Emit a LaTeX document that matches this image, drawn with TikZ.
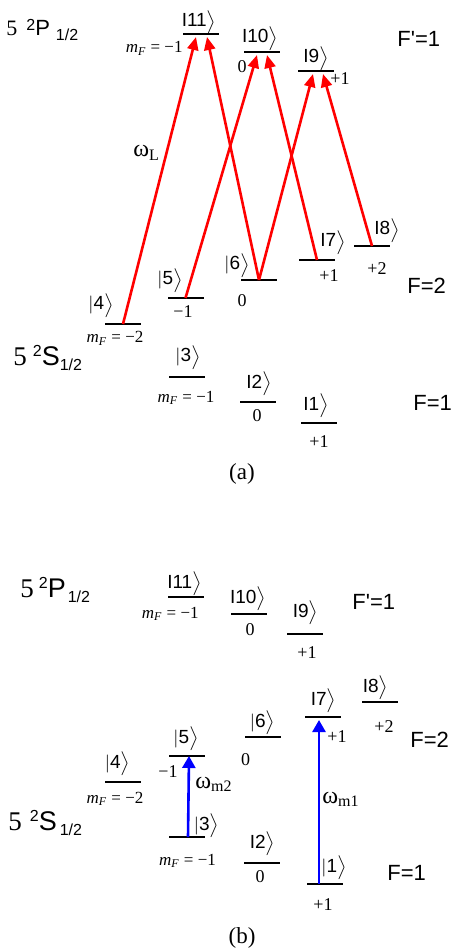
\documentclass[tikz,border=0pt]{standalone}
\usepackage{fontspec}
\setmainfont{Liberation Sans}
\newfontfamily\seriffont{Liberation Serif}
\usetikzlibrary{arrows.meta, positioning}
\newcommand{\ketI}[1]{I#1$\bigr\rangle$}
\newcommand{\ketbar}[1]{$|$#1$\bigr\rangle$}
\newcommand{\mFeq}[1]{{\itshape m}\textsubscript{\itshape F}~=~#1}
\newcommand{\smallfig}[1]{{\fontsize{8}{9}\selectfont #1}}
% #1 letter, #2 gap after 5, #3 raise of the 2, #4 gap before 1/2
\newcommand{\termname}[4]{{\seriffont 5}\hspace{#2}\raisebox{#3}{\smallfig{2}}#1\hspace{#4}\raisebox{-2.5pt}{\smallfig{1/2}}}
\tikzset{
    level/.style={fill=black, inner sep=0pt, minimum width=18pt, minimum height=0.6pt},
    thicklevel/.style={level, minimum height=1.4pt},
    ketlabel/.style={anchor=base, inner sep=0pt, font=\fontsize{9.5}{11}\selectfont},
    mflabel/.style={anchor=base, inner sep=0pt, font=\seriffont\fontsize{8.5}{10}\selectfont},
    numlabel/.style={mflabel, font=\seriffont\fontsize{9}{10}\selectfont},
    termlabel/.style={anchor=base west, inner sep=0pt, font=\fontsize{13.5}{15}\selectfont},
    flabel/.style={anchor=base west, inner sep=0pt, font=\fontsize{11}{13}\selectfont},
    omegalabel/.style={anchor=base west, inner sep=0pt, font=\seriffont\fontsize{12}{14}\selectfont},
    panel/.style={anchor=base, inner sep=0pt, font=\seriffont\fontsize{11.5}{14}\selectfont},
    laser/.style={red, line width=1.3pt, -{Triangle[length=6.5pt, width=5.5pt]}},
    rf/.style={blue, line width=1.3pt, -{Triangle[length=6pt, width=6.5pt]}}
}
\begin{document}
\begin{tikzpicture}[x=0.5pt, y=-0.5pt]
    \useasboundingbox (0,0) rectangle (453,951);

    % (a): levels
    \foreach \name/\x/\y in {a11/200.5/34, a10/261.5/52, a9/315.5/71, a8/372/246, a7/317/260,
                             a5/185.5/298, a4/123/324, a3/186.5/377, a1/318.5/423}
        \node[level] (\name) at (\x,\y) {};
    \node[thicklevel] (a6) at (259,280) {};
    \node[thicklevel] (a2) at (258,402) {};

    % (a): state labels
    \foreach \k/\x/\y in {11/199/27, 10/260/43, 9/316/63, 8/387/235, 7/333/247, 2/259/388, 1/316/410}
        \node[ketlabel] (ka\k) at (\x,\y) {\ketI{\k}};
    \foreach \k/\x/\y in {6/237/270, 5/170/285, 4/101/310, 3/188/362}
        \node[ketlabel] (ka\k) at (\x,\y) {\ketbar{\k}};

    % (a): magnetic numbers
    \node[mflabel, anchor=base east] (ma11) at (183,53) {\mFeq{−1}};
    \foreach \name/\x/\y/\lab in {ma10/242/73/0, ma9/340/85/+1, ma8/377/275/+2, ma7/329/282/+1,
                                  ma6/242/307/0, ma5/183/318/−1, ma2/257/422/0, ma1/319/447/+1}
        \node[numlabel] (\name) at (\x,\y) {\lab};
    \node[mflabel] (ma4) at (115,343) {\mFeq{−2}};
    \node[mflabel] (ma3) at (186,402) {\mFeq{−1}};

    % (a): terms
    \node[termlabel, font=\fontsize{11}{13}\selectfont] (pa) at (6,36) {\termname{P}{4.5pt}{2.5pt}{3pt}};
    \node[termlabel] (sa) at (13,365) {\termname{S}{3pt}{4.5pt}{0pt}};
    \node[flabel] (fpa) at (397,47) {F\textquotesingle=1};
    \node[flabel] (f2a) at (407,294) {F=2};
    \node[flabel] (f1a) at (413,410) {F=1};
    \node[omegalabel] (wl) at (133,157) {ω\textsubscript{L}};
    \node[panel] (capa) at (242,479) {(a)};

    % (a): laser couplings
    \draw[laser] (a4.center) -- ([xshift=-2.25pt, yshift=-1.5pt]a11.center);
    \draw[laser] (a6.center) -- ([xshift=3.25pt, yshift=-1.5pt]a11.center);
    \draw[laser] (a5.center) -- ([xshift=-2.25pt, yshift=-1.5pt]a10.center);
    \draw[laser] (a7.center) -- ([xshift=2.75pt, yshift=-1.5pt]a10.center);
    \draw[laser] (a6.center) -- ([xshift=-1.25pt, yshift=-1.5pt]a9.center);
    \draw[laser] (a8.center) -- ([xshift=3.75pt, yshift=-1.5pt]a9.center);

    % (b): levels
    \foreach \name/\x/\y in {b11/186/597, b10/249/614, b9/304.5/634, b8/379.5/702, b7/323/717,
                             b5/186.5/756, b4/122.5/782, b3/187/837, b1/324.5/884}
        \node[level] (\name) at (\x,\y) {};
    \node[thicklevel] (b6) at (262.5,737) {};
    \node[thicklevel] (b2) at (261.5,863) {};

    % (b): state labels
    \foreach \k/\x/\y in {11/184.5/588, 10/248/603, 9/305.5/617, 8/375.5/692, 7/323.5/705, 2/262.5/848}
        \node[ketlabel] (kb\k) at (\x,\y) {\ketI{\k}};
    \foreach \k/\x/\y in {6/262.5/727, 5/186/743, 4/117.5/768, 3/206.5/830, 1/334/872}
        \node[ketlabel] (kb\k) at (\x,\y) {\ketbar{\k}};

    % (b): magnetic numbers
    \node[mflabel, anchor=base east] (mb11) at (199,618) {\mFeq{−1}};
    \foreach \name/\x/\y/\lab in {mb10/250/635/0, mb9/307/658/+1, mb8/384/732/+2, mb7/337/742/+1,
                                  mb6/245.5/765/0, mb5/168/777/−1, mb2/260/882/0, mb1/323/910/+1}
        \node[numlabel] (\name) at (\x,\y) {\lab};
    \node[mflabel] (mb4) at (115,803) {\mFeq{−2}};
    \node[mflabel] (mb3) at (187.5,865) {\mFeq{−1}};

    % (b): terms
    \node[termlabel] (pb) at (20,597) {\termname{P}{2.5pt}{4.5pt}{1pt}};
    \node[termlabel] (sb) at (8,830) {\termname{S}{4pt}{4.5pt}{1.5pt}};
    \node[flabel] (fpb) at (352,609) {F\textquotesingle=1};
    \node[flabel] (f2b) at (410,747) {F=2};
    \node[flabel] (f1b) at (387,880) {F=1};
    \node[omegalabel] (wm2) at (195,788) {ω\textsubscript{m2}};
    \node[omegalabel] (wm1) at (322,803) {ω\textsubscript{m1}};
    \node[panel] (capb) at (242,943) {(b)};

    % (b): microwave couplings
    \draw[rf] ([xshift=0.5pt]b3.center) -- ([xshift=1.25pt]b5.center);
    \draw[rf] ([xshift=-2.75pt]b1.center) -- ([xshift=-2pt, yshift=-1.5pt]b7.center);
\end{tikzpicture}
\end{document}
